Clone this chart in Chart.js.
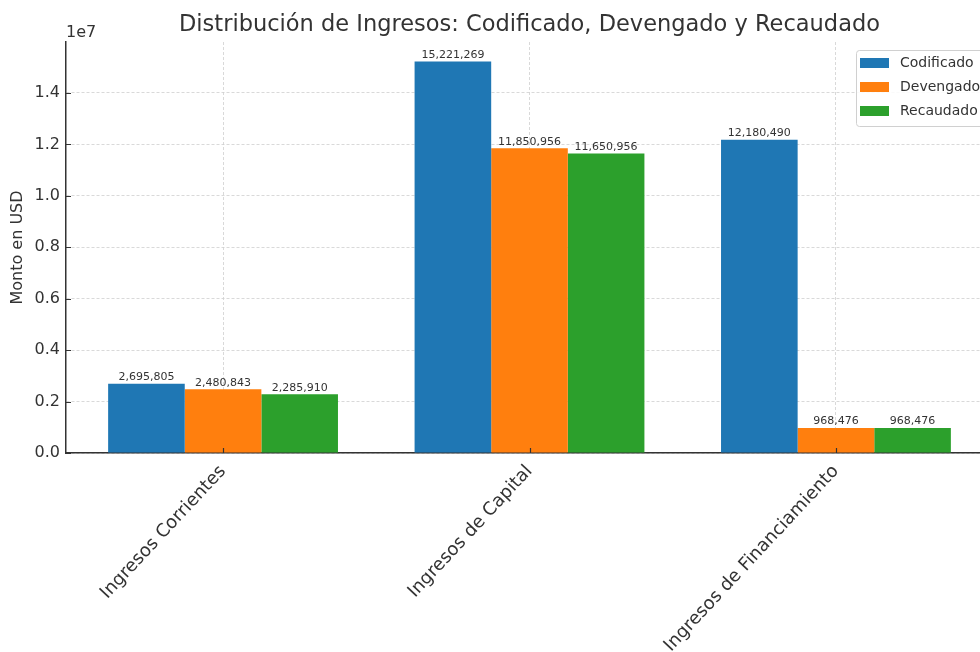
<!DOCTYPE html>
<html>
<head>
<meta charset="utf-8">
<title>Distribución de Ingresos</title>
<script src="https://cdn.jsdelivr.net/npm/chart.js@4.4.1/dist/chart.umd.min.js"></script>
<style>
    html, body { margin: 0; padding: 0; background: #fff; overflow: hidden; }
    #wrap { width: 1000px; height: 652px; }
</style>
</head>
<body>
<div id="wrap"><canvas id="myChart" width="1000" height="652"></canvas></div>
<script>
// data
var categorias = ['Ingresos Corrientes', 'Ingresos de Capital', 'Ingresos de Financiamiento'];
var codificado = [2695805, 15221269, 12180490];
var devengado  = [2480843, 11850956, 968476];
var recaudado  = [2285910, 11650956, 968476];
var yTicks = [0, 2000000, 4000000, 6000000, 8000000, 10000000, 12000000, 14000000];

var TEXT = '#333333';
Chart.defaults.font.family = "'DejaVu Sans', sans-serif";
Chart.defaults.color = TEXT;

function puntos(valores) {
    return valores.map(function (v, i) { return { x: i, y: v }; });
}

var maxVal = Math.max.apply(null, codificado.concat(devengado, recaudado));

/*********************** Extra drawing ************************/
var extras = {
    id: 'extras',
    afterDraw: function (chart) {
        var ctx = chart.ctx, area = chart.chartArea;
        var xs = chart.scales.x, ys = chart.scales.y;
        ctx.save();

        // inward tick marks
        ctx.strokeStyle = TEXT;
        ctx.lineWidth = 1.2;
        ctx.beginPath();
        yTicks.forEach(function (v) {
            var py = Math.round(ys.getPixelForValue(v)) + 0.5;
            ctx.moveTo(area.left, py);
            ctx.lineTo(area.left + 5, py);
        });
        categorias.forEach(function (c, i) {
            var px = Math.round(xs.getPixelForValue(i)) + 0.5;
            ctx.moveTo(px, area.bottom);
            ctx.lineTo(px, area.bottom - 5);
        });
        ctx.stroke();

        // value labels on top of each bar
        ctx.font = "11px 'DejaVu Sans'";
        ctx.fillStyle = TEXT;
        ctx.textAlign = 'center';
        ctx.textBaseline = 'bottom';
        chart.data.datasets.forEach(function (ds, d) {
            chart.getDatasetMeta(d).data.forEach(function (bar, i) {
                ctx.fillText(ds.data[i].y.toLocaleString('en-US'), bar.x, bar.y - 1);
            });
        });

        // axis offset text
        ctx.font = "16px 'DejaVu Sans'";
        ctx.textAlign = 'left';
        ctx.textBaseline = 'alphabetic';
        ctx.fillText('1e7', area.left, area.top - 5);

        // legend in the upper right corner
        var bw = 130, bh = 76;
        var bx = area.right - 7 - bw, by = area.top + 8;
        ctx.fillStyle = 'rgba(255,255,255,0.85)';
        ctx.strokeStyle = '#d0d0d0';
        ctx.lineWidth = 1;
        ctx.beginPath();
        ctx.roundRect(bx + 0.5, by + 0.5, bw, bh, 3);
        ctx.fill();
        ctx.stroke();
        ctx.font = "14px 'DejaVu Sans'";
        ctx.textBaseline = 'middle';
        chart.data.datasets.forEach(function (ds, d) {
            var cy = by + 13 + d * 24;
            ctx.fillStyle = ds.backgroundColor;
            ctx.fillRect(bx + 4, cy - 5, 29, 10);
            ctx.fillStyle = TEXT;
            ctx.fillText(ds.label, bx + 44, cy);
        });

        ctx.restore();
    }
};

var ctx = document.getElementById('myChart').getContext('2d');

var myBarChart = new Chart(ctx, {
    type: 'bar',
    data: {
        datasets: [{
            label: 'Codificado',
            backgroundColor: '#1f77b4',
            data: puntos(codificado)
        }, {
            label: 'Devengado',
            backgroundColor: '#ff7f0e',
            data: puntos(devengado)
        }, {
            label: 'Recaudado',
            backgroundColor: '#2ca02c',
            data: puntos(recaudado)
        }]
    },
    options: {
        responsive: false,
        animation: false,
        devicePixelRatio: 1,
        layout: { padding: { left: 0, right: 7, top: 0, bottom: 0 } },
        datasets: {
            bar: { categoryPercentage: 0.75, barPercentage: 1.0, borderWidth: 0 }
        },
        plugins: {
            legend: { display: false },
            tooltip: { enabled: false },
            title: {
                display: true,
                fullSize: false,
                text: 'Distribución de Ingresos: Codificado, Devengado y Recaudado',
                color: TEXT,
                font: { size: 22.5, weight: 'normal' },
                padding: { top: 12, bottom: 3 }
            }
        },
        scales: {
            x: {
                type: 'linear',
                offset: false,
                min: -0.5125,
                max: categorias.length - 1 + 0.5125,
                z: 1,
                afterBuildTicks: function (scale) {
                    scale.ticks = categorias.map(function (c, i) { return { value: i }; });
                },
                afterFit: function (scale) { scale.height = 199; },
                ticks: {
                    autoSkip: false,
                    minRotation: 47,
                    maxRotation: 47,
                    padding: 8,
                    color: TEXT,
                    font: { size: 18 },
                    callback: function (v) { return categorias[v]; }
                },
                grid: { offset: false, color: '#cfcfcf', lineWidth: 0.8, drawTicks: false },
                border: { color: '#333', width: 1.5, dash: [3, 2] }
            },
            y: {
                min: 0,
                max: maxVal * 1.05,
                z: 1,
                afterBuildTicks: function (scale) {
                    scale.ticks = yTicks.map(function (v) { return { value: v }; });
                },
                afterFit: function (scale) { scale.width = 66; },
                ticks: {
                    padding: 6,
                    color: TEXT,
                    font: { size: 16 },
                    callback: function (v) { return (v / 1e7).toFixed(1); }
                },
                title: {
                    display: true,
                    text: 'Monto en USD',
                    color: TEXT,
                    font: { size: 16 },
                    padding: { top: 8, bottom: 4 }
                },
                grid: { color: '#cfcfcf', lineWidth: 0.8, drawTicks: false },
                border: { color: '#333', width: 1.5, dash: [3, 2] }
            }
        }
    },
    plugins: [extras]
});
</script>
</body>
</html>
